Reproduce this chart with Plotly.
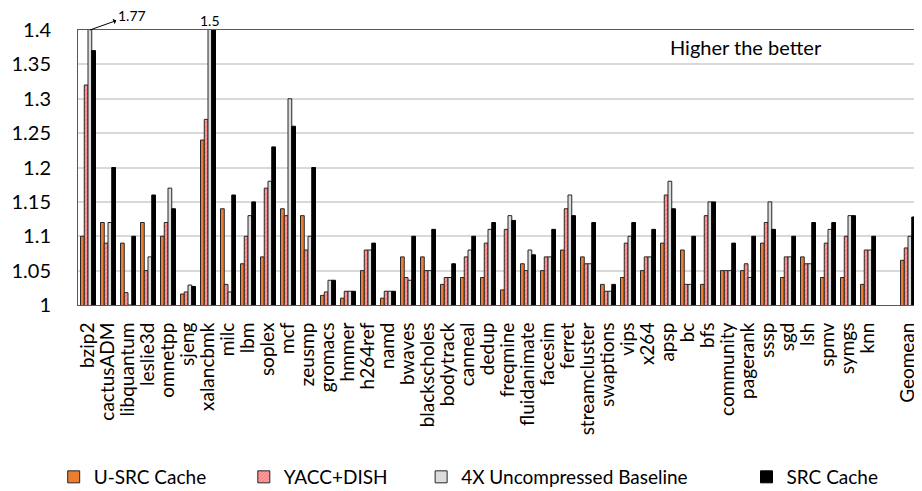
import plotly.graph_objects as go

categories = ["bzip2", "cactusADM", "libquantum", "leslie3d", "omnetpp", "sjeng", "xalancbmk",
              "milc", "lbm", "soplex", "mcf", "zeusmp", "gromacs", "hmmer", "h264ref", "namd",
              "bwaves", "blackscholes", "bodytrack", "canneal", "dedup", "freqmine", "fluidanimate",
              "facesim", "ferret", "streamcluster", "swaptions", "vips", "x264", "apsp", "bc", "bfs",
              "community", "pagerank", "sssp", "sgd", "lsh", "spmv", "symgs", "knn", " ", "Geomean"]

usrc = [1.10, 1.12, 1.09, 1.12, 1.10, 1.016, 1.24, 1.14, 1.06, 1.07, 1.14, 1.13, 1.014, 1.01, 1.05,
        1.01, 1.07, 1.07, 1.03, 1.04, 1.04, 1.022, 1.06, 1.05, 1.08, 1.07, 1.03, 1.04, 1.05, 1.09,
        1.08, 1.03, 1.05, 1.05, 1.09, 1.04, 1.07, 1.04, 1.04, 1.03, None, 1.065]
yacc = [1.32, 1.09, 1.018, 1.05, 1.12, 1.019, 1.27, 1.03, 1.10, 1.17, 1.13, 1.08, 1.019, 1.02, 1.08,
        1.02, 1.04, 1.05, 1.04, 1.07, 1.09, 1.11, 1.05, 1.07, 1.14, 1.06, 1.02, 1.09, 1.07, 1.16,
        1.03, 1.13, 1.05, 1.06, 1.12, 1.07, 1.06, 1.09, 1.10, 1.08, None, 1.083]
base4x = [1.77, 1.12, 1.0, 1.07, 1.17, 1.029, 1.5, 1.019, 1.13, 1.18, 1.30, 1.10, 1.036, 1.02, 1.08,
          1.02, 1.036, 1.05, 1.04, 1.08, 1.11, 1.13, 1.08, 1.07, 1.16, 1.06, 1.02, 1.10, 1.07, 1.18,
          1.03, 1.15, 1.05, 1.04, 1.15, 1.07, 1.06, 1.11, 1.13, 1.08, None, 1.10]
src = [1.37, 1.20, 1.10, 1.16, 1.14, 1.027, 1.40, 1.16, 1.15, 1.23, 1.26, 1.20, 1.036, 1.02, 1.09,
       1.02, 1.10, 1.11, 1.06, 1.10, 1.12, 1.123, 1.073, 1.11, 1.13, 1.12, 1.03, 1.12, 1.11, 1.14,
       1.10, 1.15, 1.09, 1.10, 1.11, 1.10, 1.12, 1.12, 1.13, 1.10, None, 1.128]

series_names = ["U-SRC Cache", "YACC+DISH", "4X Uncompressed Baseline", "SRC Cache"]
ytick_vals = [1, 1.05, 1.1, 1.15, 1.2, 1.25, 1.3, 1.35, 1.4]

FONT = "Lato"
OUTLINE = "#262626"
W, H = 914, 483  # page body adds an 8px margin, so the figure fills the 922x491 window

fig = go.Figure()
fig.add_trace(go.Bar(x=categories, y=usrc, name=series_names[0], legend="legend",
                     marker=dict(color="#ED7D31", line=dict(color=OUTLINE, width=1))))
fig.add_trace(go.Bar(x=categories, y=yacc, name=series_names[1], legend="legend2",
                     marker=dict(color="white", line=dict(color=OUTLINE, width=1),
                                 pattern=dict(shape="/", fgcolor="#FF0000", bgcolor="white",
                                              size=3, solidity=0.86))))
fig.add_trace(go.Bar(x=categories, y=base4x, name=series_names[2], legend="legend3",
                     marker=dict(color="#DCDCDC", line=dict(color=OUTLINE, width=1))))
fig.add_trace(go.Bar(x=categories, y=src, name=series_names[3], legend="legend4",
                     marker=dict(color="#000000", line=dict(color="#000000", width=1))))

# offset of the 3rd bar (4X baseline) inside a group
n_series = 4
group_w = 0.75
off3 = -group_w / 2 + group_w / n_series * 2.5

fig.add_annotation(x=categories.index("bzip2") + off3, y=1.4, xref="x", yref="y",
                   text="1.77", showarrow=True, arrowside="start", arrowhead=2, arrowsize=1,
                   arrowwidth=1, arrowcolor="#000000", ax=42, ay=-15,
                   font=dict(family=FONT, size=14, color="#000000"))
fig.add_annotation(x=categories.index("xalancbmk") + off3, y=1.4, xref="x", yref="y",
                   text="1.5", showarrow=False, yanchor="bottom", yshift=-1,
                   font=dict(family=FONT, size=14, color="#000000"))
fig.add_annotation(x=0.795, y=0.938, xref="paper", yref="paper", text="Higher the better",
                   xanchor="center", yanchor="middle",
                   showarrow=False, font=dict(family=FONT, size=20, color="#000000"))

leg_common = dict(orientation="h", yanchor="middle", y=0.029, xanchor="left",
                  xref="container", yref="container",
                  font=dict(family=FONT, size=19, color="#000000"),
                  bgcolor="rgba(0,0,0,0)", itemwidth=30)

fig.update_layout(
    width=W, height=H,
    margin=dict(l=62, r=3, t=22, b=186),
    paper_bgcolor="white", plot_bgcolor="white",
    barmode="group", bargap=0.25, bargroupgap=0,
    font=dict(family=FONT, color="#000000"),
    showlegend=True,
    legend=dict(x=0.0500, **leg_common),
    legend2=dict(x=0.2580, **leg_common),
    legend3=dict(x=0.4520, **leg_common),
    legend4=dict(x=0.8080, **leg_common),
    xaxis=dict(type="category", categoryorder="array", categoryarray=categories,
               tickmode="array", tickvals=categories, ticktext=categories,
               tickangle=-90, tickfont=dict(family=FONT, size=19, color="#000000"),
               showline=True, mirror=True, linecolor="#595959", linewidth=1,
               showgrid=False, ticks="", ticklabelstandoff=9),
    yaxis=dict(range=[1, 1.4], tickvals=ytick_vals,
               tickfont=dict(family=FONT, size=20, color="#000000"),
               showline=True, mirror=True, linecolor="#595959", linewidth=1,
               showgrid=True, gridcolor="#D9D9D9", gridwidth=1.5, zeroline=False,
               ticks="", ticklabelstandoff=22),
)

fig.write_html("out.html")
